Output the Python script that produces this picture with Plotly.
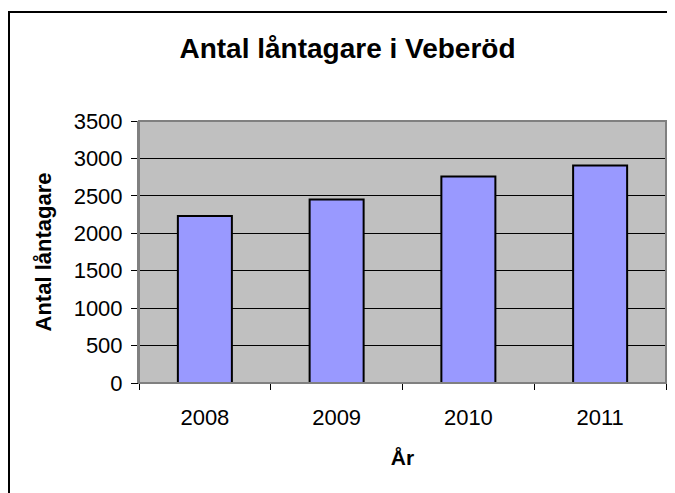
import plotly.graph_objects as go

years = ["2008", "2009", "2010", "2011"]
borrowers = [2230, 2450, 2760, 2905]
y_ticks = [0, 500, 1000, 1500, 2000, 2500, 3000, 3500]

# page places the figure at an 8px body margin, so compensate and avoid overflow
OFF = 8
W, H = 675 - OFF, 493 - OFF
L = 139 - OFF
T = 121 - OFF
R = W - (666 - OFF)
B = H - (383 - OFF)
pw = W - L - R
ph = H - T - B

fig = go.Figure()
fig.add_trace(go.Bar(
    x=years, y=borrowers,
    marker=dict(color="#9999FF", line=dict(color="#000000", width=2)),
    width=0.41,
))

font = "Liberation Sans, Arial, sans-serif"
fig.update_layout(
    width=W, height=H,
    margin=dict(l=L, r=R, t=T, b=B),
    paper_bgcolor="#FFFFFF",
    plot_bgcolor="#C0C0C0",
    showlegend=False,
    font=dict(family=font, color="#000000", size=22),
    title=dict(text="<b>Antal låntagare i Veberöd</b>", font=dict(size=28, family=font, color="#000"),
               x=(347.5 - OFF) / W, xanchor="center", xref="container",
               y=1 - (48 - OFF) / H, yanchor="middle", yref="container"),
    xaxis=dict(
        type="category",
        showgrid=False,
        showline=True, linecolor="#000000", linewidth=1,
        ticks="outside", tickson="boundaries", ticklen=6, tickcolor="#000000",
        tickfont=dict(size=22, family=font),
        ticklabelstandoff=15,
        title=dict(text="<b>År</b>", font=dict(size=21, family=font), standoff=20),
    ),
    yaxis=dict(
        range=[0, 3500],
        tickvals=y_ticks,
        showgrid=True, gridcolor="#000000", gridwidth=1,
        showline=True, linecolor="#808080", linewidth=2,
        ticks="outside", ticklen=6, tickcolor="#000000",
        tickfont=dict(size=22, family=font),
        ticklabelstandoff=4,
        zeroline=False,
        title=dict(text="<b>Antal låntagare</b>", font=dict(size=22, family=font), standoff=16),
    ),
)

# plot-area border (grey)
fig.add_shape(type="rect", xref="paper", yref="paper", x0=0, x1=1, y0=0, y1=1,
              line=dict(color="#808080", width=2), layer="above")
# outer chart border
fig.add_shape(type="rect", xref="paper", yref="paper",
              x0=(1 - L) / pw, x1=1.2, y0=-0.6, y1=(H - B - (12 - OFF)) / ph,
              line=dict(color="#000000", width=2))

fig.write_html("out.html")
